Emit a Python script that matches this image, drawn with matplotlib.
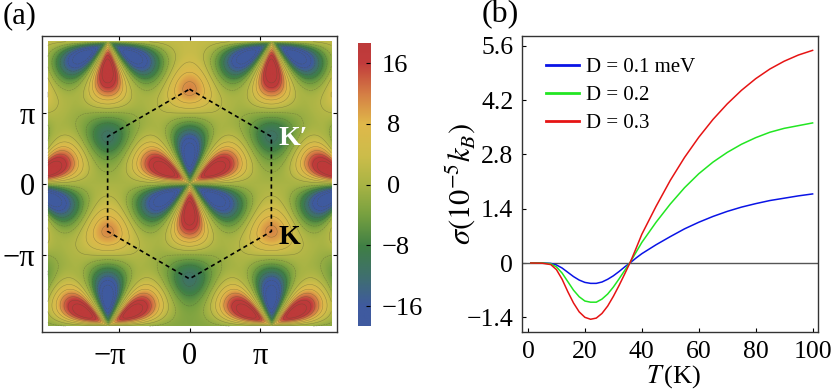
import matplotlib
matplotlib.use("Agg")
import matplotlib.pyplot as plt
from matplotlib.colors import LinearSegmentedColormap
from matplotlib.transforms import ScaledTranslation
import numpy as np

plt.rcParams["font.family"] = ["Liberation Serif", "DejaVu Serif"]
plt.rcParams["mathtext.fontset"] = "stix"

# (a) positions and peak values of the lobes.
# The colour field between them is only an approximation built from these
gamma_x = [0, -3.628, 3.628, -3.628, 3.628, -7.255, 7.255]
gamma_y = [0, 6.283, 6.283, -6.283, -6.283, 0, 0]
lobe_angle = [30, 90, 150, 210, 270, 330]
lobe_value = [24, -24, 24, -24, 24, -24]
k_x = [0, -3.628, 3.628, -7.255, 7.255]
k_y = [4.189, -2.094, -2.094, 4.189, 4.189]
k_value = 14
kp_x = [0, -3.628, 3.628, -7.255, 7.255]
kp_y = [-4.189, 2.094, 2.094, -4.189, -4.189]
kp_value = -14
hex_x = [0, 3.628, 3.628, 0, -3.628, -3.628, 0]
hex_y = [4.189, 2.094, -2.094, -4.189, -2.094, 2.094, 4.189]

# (b) curves
T = [1, 5, 8, 10, 12, 14, 16, 18, 20, 22, 24, 26, 28, 30, 32, 34, 36, 38, 40,
     45, 50, 55, 60, 65, 70, 75, 80, 85, 90, 95, 100]
s_01 = [0, 0, -0.01, -0.05, -0.13, -0.24, -0.35, -0.44, -0.50, -0.525, -0.525,
        -0.49, -0.42, -0.33, -0.22, -0.10, 0.01, 0.13, 0.24,
        0.47, 0.68, 0.88, 1.05, 1.20, 1.33, 1.44, 1.53, 1.61, 1.67, 1.73, 1.78]
s_02 = [0, 0, -0.02, -0.10, -0.26, -0.48, -0.70, -0.87, -0.98, -1.01, -1.01,
        -0.93, -0.80, -0.62, -0.41, -0.19, 0.03, 0.28, 0.53,
        1.05, 1.52, 1.94, 2.30, 2.60, 2.85, 3.06, 3.23, 3.37, 3.47, 3.54, 3.61]
s_03 = [0, -0.005, -0.04, -0.17, -0.42, -0.74, -1.03, -1.26, -1.40, -1.45, -1.42,
        -1.30, -1.11, -0.86, -0.58, -0.28, 0.03, 0.38, 0.74,
        1.46, 2.13, 2.72, 3.24, 3.70, 4.10, 4.45, 4.75, 5.00, 5.20, 5.36, 5.48]
labels = ["D = 0.1 meV", "D = 0.2", "D = 0.3"]
colors = ["#0a14e6", "#22e622", "#e61414"]

cmap = LinearSegmentedColormap.from_list("bc", [
    (0.00, "#3f5a9f"), (0.07, "#3f5a9f"), (0.17, "#3f6f70"), (0.28, "#3f7f45"),
    (0.39, "#76a040"), (0.50, "#a9b445"), (0.60, "#ccbd4a"), (0.715, "#e0b84a"),
    (0.82, "#d57f45"), (0.93, "#c23c3c"), (1.00, "#bd3a3a")])

xx, yy = np.meshgrid(np.linspace(-2*np.pi, 2*np.pi, 500), np.linspace(-2*np.pi, 2*np.pi, 500))
z = np.zeros_like(xx)
r0 = 1.3
for gx, gy in zip(gamma_x, gamma_y):
    r = np.hypot(xx - gx, yy - gy) + 1e-9
    th = np.arctan2(yy - gy, xx - gx)
    rad = (r / r0) * np.exp((1 - (r / r0)**2) / 2)
    for a, v in zip(lobe_angle, lobe_value):
        # each lobe only lives in its own 60 degree wedge
        d = np.angle(np.exp(1j * (th - np.radians(a))))
        wedge = np.abs(d) < np.pi / 6
        z += v * np.clip(np.cos(3 * d), 0, 1)**1.2 * rad * wedge

def k_bump(kx, ky):
    d2 = (xx - kx)**2 + (yy - ky)**2
    return 0.5 * (np.exp(-d2 / (2 * 0.7**2)) + np.exp(-d2 / (2 * 1.6**2)))

for kx, ky in zip(k_x, k_y):
    z += k_value * k_bump(kx, ky)
for kx, ky in zip(kp_x, kp_y):
    z += kp_value * k_bump(kx, ky)

fig = plt.figure(figsize=(8.31, 3.92), dpi=100)
W, H = 831.0, 392.0

def box(l, t, r, b):
    return [l / W, 1 - b / H, (r - l) / W, (b - t) / H]

def nudge(label, dx_px):
    label.set_transform(label.get_transform() + ScaledTranslation(dx_px / 100, 0, fig.dpi_scale_trans))

# panel a
ax = fig.add_axes(box(41.7, 35.7, 337.3, 332.3))
im = ax.imshow(z, extent=[-2*np.pi, 2*np.pi, -2*np.pi, 2*np.pi], origin="lower",
               cmap=cmap, vmin=-18.6, vmax=18.6, interpolation="bilinear")
ax.contour(xx, yy, z, levels=np.arange(-19.5, 20, 3), colors="#4a4a30", linewidths=0.35, alpha=0.45)
ax.plot(hex_x, hex_y, color="k", ls=(0, (2.5, 2)), lw=1.2)
ax.set_xlim(-6.55, 6.55)
ax.set_ylim(-6.55, 6.55)
ax.set_aspect("auto")
ticks = [-np.pi, 0, np.pi]
ax.set_xticks(ticks, ["\u2212\u03c0", "0", "\u03c0"])
ax.set_yticks(ticks, ["\u2212\u03c0", "0", "\u03c0"])
ax.tick_params(direction="in", top=True, right=True, length=3, width=0.8, labelsize=22, pad=7)
ax.tick_params(axis="y", pad=5)
nudge(ax.get_xticklabels()[0], -9)
for s in ax.spines.values():
    s.set_linewidth(1.0)
    s.set_color("#333333")
ax.text(3.95, 2.0, "K\u2032", color="white", fontsize=20, fontweight="bold", va="center")
ax.text(3.95, -2.35, "K", color="black", fontsize=20, fontweight="bold", va="center")
fig.text(3 / W, 1 - 23 / H, "(a)", fontsize=22)

# colorbar
cax = fig.add_axes(box(357.7, 43.3, 370.3, 326))
grad = np.linspace(-18.6, 18.6, 256).reshape(-1, 1)
cax.imshow(grad, extent=[0, 1, -18.6, 18.6], origin="lower", cmap=cmap, aspect="auto",
           vmin=-18.6, vmax=18.6)
cax.set_xticks([])
cax.yaxis.tick_right()
cax.set_yticks([-16, -8, 0, 8, 16], ["\u221216", "\u22128", "0", "8", "16"])
cax.tick_params(direction="in", length=3, width=0.8, labelsize=19, pad=8)
nudge(cax.get_yticklabels()[2], 6)
nudge(cax.get_yticklabels()[3], 6)
for s in cax.spines.values():
    s.set_visible(False)

# panel b
bx = fig.add_axes(box(521.7, 35.7, 818.3, 332.3))
bx.axhline(0, color="#555555", lw=1.0)
for y, lab, c in zip([s_01, s_02, s_03], labels, colors):
    bx.plot(T, y, color=c, lw=1.1, label=lab)
bx.set_xlim(-2.2, 102)
bx.set_ylim(-1.786, 5.858)
bx.set_xticks([0, 20, 40, 60, 80, 100])
bx.set_yticks([-1.4, 0, 1.4, 2.8, 4.2, 5.6], ["\u22121.4", "0", "1.4", "2.8", "4.2", "5.6"])
bx.tick_params(direction="in", length=3, width=0.8, labelsize=18.5, pad=6)
for s in bx.spines.values():
    s.set_linewidth(1.0)
    s.set_color("#333333")
leg = bx.legend(loc="upper left", bbox_to_anchor=(0.02, 0.99), frameon=False, fontsize=15,
                labelspacing=0.41, handlelength=1.55, handletextpad=0.35)
for line in leg.get_lines():
    line.set_linewidth(2.0)
fig.text(674 / W, 1 - 377 / H, r"$T\,$(K)", fontsize=19, ha="center", va="center")
fig.text(461 / W, 1 - 184 / H, r"$\sigma(10^{-5}k_B)$", fontsize=22, rotation=90, ha="center", va="center")
fig.text(482 / W, 1 - 22 / H, "(b)", fontsize=23)

fig.savefig("out.png", dpi=100)
